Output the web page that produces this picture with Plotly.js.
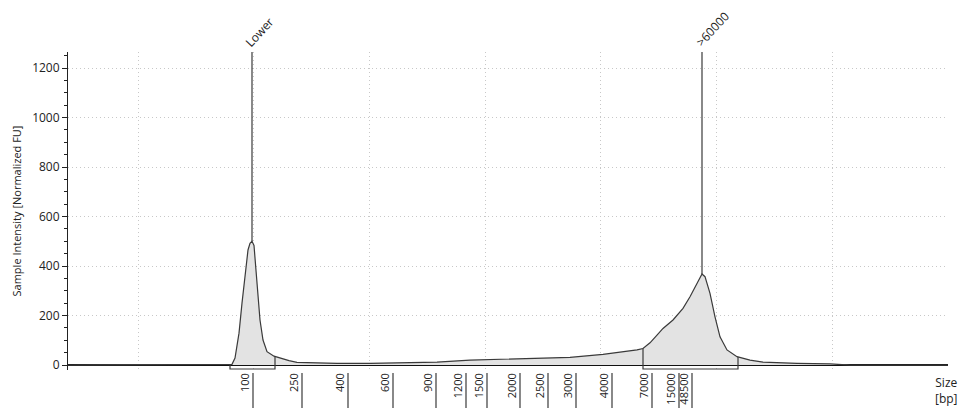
<!DOCTYPE html>
<html>
<head>
<meta charset="utf-8">
<script src="https://cdn.plot.ly/plotly-3.0.1.min.js"></script>
<style>html,body{margin:0;padding:0;background:#fff;}#chart{width:961px;height:414px;}</style>
</head>
<body>
<div id="chart"></div>
<script>
// Electropherogram trace: migration position (arbitrary units) vs sample intensity [FU]
const position = [0, 162, 164, 167, 171, 174, 177, 180, 182, 184, 186, 187, 190, 192, 195, 199, 206, 212, 221, 229, 269, 302, 342, 369, 402, 435, 469, 502, 535, 552, 569, 575, 582, 589, 595, 605, 615, 622, 629, 632, 634, 637, 642, 647, 652, 659, 669, 682, 695, 729, 762, 782, 880];
const intensity = [0, 0, 3, 28, 129, 250, 372, 465, 492, 500, 483, 430, 303, 182, 101, 54, 36, 28, 18, 11, 7, 7, 9, 12, 20, 24, 27, 31, 43, 51, 61, 67, 90, 121, 148, 182, 229, 276, 330, 352, 368, 357, 290, 195, 114, 61, 34, 20, 12, 7, 5, 0, 0];

// Size ladder (bp) and its positions on the migration axis
const ladderSize = ['100', '250', '400', '600', '900', '1200', '1500', '2000', '2500', '3000', '4000', '7000', '15000', '48500'];
const ladderPos = [185, 234, 280, 325, 368, 398, 419, 452, 480, 508, 544, 584, 611, 624];

// Peak markers
const markerLabel = ['Lower', '>60000'];
const markerPos = [184, 634];

// Integrated regions
const regionStart = [162, 575];
const regionEnd = [207, 670];

const xRange = [0, 880];
const yRange = [-20, 1265];
const boxBottom = -16;

function interp(x) {
  for (let i = 0; i < position.length - 1; i++) {
    if (x >= position[i] && x <= position[i + 1]) {
      const t = (x - position[i]) / (position[i + 1] - position[i]);
      return intensity[i] + t * (intensity[i + 1] - intensity[i]);
    }
  }
  return 0;
}

const lineCol = '#3a3a3a';
const gridCol = '#c8c8c8';
const gridDash = '1px,3px';
const font = {family: 'Open Sans, DejaVu Sans, sans-serif', color: '#222'};

const traces = [{
  x: position, y: intensity, type: 'scatter', mode: 'lines',
  fill: 'tozeroy', fillcolor: '#e3e3e3',
  line: {color: lineCol, width: 1.2}, hoverinfo: 'skip'
}];

const bx = [], by = [];
for (let i = 0; i < regionStart.length; i++) {
  bx.push(regionStart[i], regionStart[i], regionEnd[i], regionEnd[i], null);
  by.push(interp(regionStart[i]), boxBottom, boxBottom, interp(regionEnd[i]), null);
}
traces.push({x: bx, y: by, type: 'scatter', mode: 'lines', line: {color: lineCol, width: 1.2}, hoverinfo: 'skip', cliponaxis: false});

const shapes = [];
markerPos.forEach(p => {
  shapes.push({type: 'line', xref: 'x', yref: 'y', x0: p, x1: p, y0: interp(p), y1: yRange[1], line: {color: lineCol, width: 1.2}});
});
ladderPos.forEach(p => {
  shapes.push({type: 'line', xref: 'x', yref: 'paper', ysizemode: 'pixel', yanchor: 0, x0: p, x1: p, y0: -3, y1: -38, line: {color: lineCol, width: 1.2}});
});

const annotations = markerLabel.map((t, i) => ({
  text: t, x: markerPos[i], xref: 'x', y: 1, yref: 'paper',
  xanchor: 'left', yanchor: 'bottom', xshift: -13, yshift: -1,
  textangle: -47, showarrow: false, font: Object.assign({size: 12}, font)
}));
annotations.push({
  text: 'Size<br>[bp]', x: 1, xref: 'paper', y: 0, yref: 'paper',
  xanchor: 'center', yanchor: 'top', xshift: -2, yshift: -2, align: 'center',
  showarrow: false, font: Object.assign({size: 12}, font)
});

const layout = {
  width: 961, height: 414,
  margin: {l: 68, r: 13, t: 52, b: 44},
  paper_bgcolor: '#fff', plot_bgcolor: '#fff',
  showlegend: false,
  font: font,
  xaxis: {
    range: xRange, showgrid: false, zeroline: false, showline: false,
    tickmode: 'array', tickvals: ladderPos, ticktext: ladderSize,
    tickangle: -90, ticks: '', ticklabelshift: -8,
    tickfont: Object.assign({size: 11}, font),
    minor: {tickmode: 'linear', tick0: 70, dtick: 115.7, showgrid: true, gridcolor: gridCol, griddash: gridDash, gridwidth: 1, ticks: ''}
  },
  yaxis: {
    range: yRange, tickmode: 'linear', tick0: 0, dtick: 200,
    ticks: 'outside', ticklen: 5, tickcolor: '#222', showline: true, linecolor: '#222', linewidth: 1,
    showgrid: true, gridcolor: gridCol, griddash: gridDash, gridwidth: 1,
    zeroline: true, zerolinecolor: '#111', zerolinewidth: 2,
    tickfont: Object.assign({size: 12}, font),
    minor: {tickmode: 'linear', tick0: 0, dtick: 50, ticks: 'outside', ticklen: 3, tickcolor: '#222', showgrid: false},
    title: {text: 'Sample Intensity [Normalized FU]', font: Object.assign({size: 11}, font), standoff: 8}
  },
  shapes: shapes,
  annotations: annotations
};

Plotly.newPlot('chart', traces, layout, {displayModeBar: false, staticPlot: true});
</script>
</body>
</html>
